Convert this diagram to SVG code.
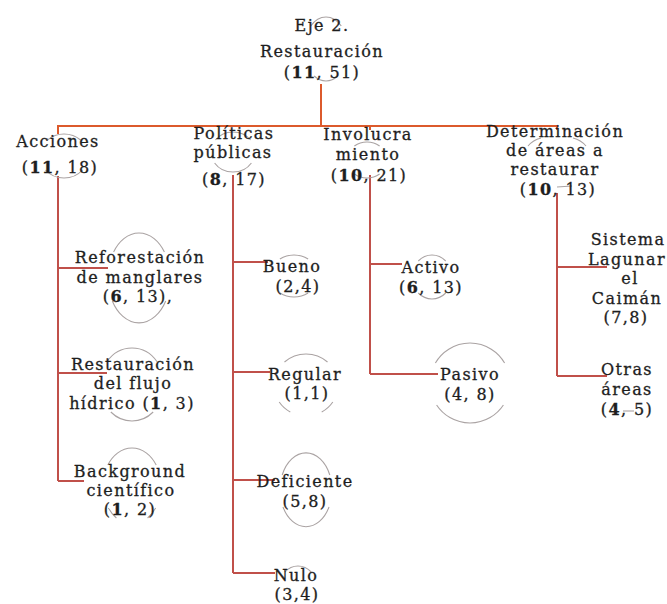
<svg xmlns="http://www.w3.org/2000/svg" width="667" height="604" viewBox="0 0 667 604">
<style>
  text { font-family: "DejaVu Serif", "Liberation Serif", serif; font-size: 16px; letter-spacing: 1.4px; fill: #1e1e1e; stroke: #1e1e1e; stroke-width: 0.3; text-anchor: middle; }
  .b { font-weight: bold; }
  .arc { fill: none; stroke: #aaa3a3; stroke-width: 1.1; }
  .c1 { fill: none; stroke: #dc5a2c; stroke-width: 2; }
  .c2 { fill: none; stroke: #c0504a; stroke-width: 2; }
</style>
<rect width="667" height="604" fill="#ffffff"/>

<g id="connectors">
  <path class="c1" d="M321 84 V126 M57 126 H557 M58 126 V134 M370 126 V130 M557 126 V130"/>
  <path class="c2" d="M58 176 V481 M58 268 H108 M58 373 H107 M58 481 H84"/>
  <path class="c2" d="M233 175 V573 M233 262 H268 M233 372 H270 M233 480 H275 M233 573 H275"/>
  <path class="c2" d="M370 175 V374 M370 264 H402 M370 374 H438"/>
  <path class="c2" d="M557 193 V376 M557 267 H607 M557 376 H607"/>
</g>

<g id="root">
  <path class="arc" d="M310.7 26 A22 32 0 0 1 341.3 26 M337.8 76 A22 32 0 0 1 314.2 76"/>
  <text x="322" y="31">Eje 2.</text>
  <text x="322" y="57">Restauración</text>
  <text x="322" y="78">(<tspan class="b">11</tspan>, 51)</text>
</g>

<g id="acciones">
  <path class="arc" d="M47.5 140 A24 22 0 0 1 80.5 140 M82.5 170 A24 22 0 0 1 45.5 170"/>
  <text x="58" y="147">Acciones</text>
  <text x="60" y="173">(<tspan class="b">11</tspan>, 18)</text>
</g>

<g id="politicas">
  <path class="arc" d="M215.4 140 A22 20 0 0 1 250.6 140 M251.4 163 A22 20 0 0 1 214.6 163"/>
  <text x="234" y="139">Políticas</text>
  <text x="233" y="158">públicas</text>
  <text x="234" y="185">(<tspan class="b">8</tspan>, 17)</text>
</g>

<g id="involucramiento">
  <path class="arc" d="M354.4 146 A20 18 0 0 1 379.6 146 M379.6 174 A20 18 0 0 1 354.4 174"/>
  <text x="368" y="140">Involucra</text>
  <text x="368" y="160">miento</text>
  <text x="369" y="181">(<tspan class="b">10</tspan>, 21)</text>
</g>

<g id="determinacion">
  <path class="arc" d="M541 138 Q533 140 528 146 M573 138 Q581 140 586 146 M557 187 L572 186"/>
  <text x="555" y="137">Determinación</text>
  <text x="555" y="156">de áreas a</text>
  <text x="555" y="175">restaurar</text>
  <text x="558" y="195">(<tspan class="b">10</tspan>, 13)</text>
</g>

<g id="reforestacion">
  <path class="arc" d="M113.6 252 A31 44.5 0 0 1 164.4 252 M165.7 301 A31 44.5 0 0 1 112.3 301"/>
  <text x="140" y="263">Reforestación</text>
  <text x="140" y="283">de manglares</text>
  <text x="138" y="302">(<tspan class="b">6</tspan>, 13),</text>
</g>

<g id="restauracion-flujo">
  <path class="arc" d="M106.7 362 A32 36 0 0 1 157.3 362 M153.2 412 A32 36 0 0 1 110.8 412"/>
  <text x="133" y="370">Restauración</text>
  <text x="133" y="389">del flujo</text>
  <text x="132" y="409">hídrico (<tspan class="b">1</tspan>, 3)</text>
</g>

<g id="background">
  <path class="arc" d="M107.8 465 A29 38 0 0 1 156.2 465 M108.4 508 A29 38 0 0 0 116.4 518 M155.6 508 A29 38 0 0 1 147.6 518"/>
  <text x="130" y="477">Background</text>
  <text x="131" y="496">científico</text>
  <text x="130" y="515">(<tspan class="b">1</tspan>, 2)</text>
</g>

<g id="bueno">
  <path class="arc" d="M279.9 259 A24 21 0 0 1 308.1 259 M308.1 293 A24 21 0 0 1 279.9 293"/>
  <text x="292" y="272">Bueno</text>
  <text x="298" y="292">(2,4)</text>
</g>

<g id="regular">
  <path class="arc" d="M284.5 362 A32 31 0 0 1 327.5 362 M279.2 402 A32 31 0 0 0 290.3 412 M332.8 402 A32 31 0 0 1 321.7 412"/>
  <text x="305" y="380">Regular</text>
  <text x="307" y="399">(1,1)</text>
</g>

<g id="deficiente">
  <path class="arc" d="M282.2 475 A26 37 0 0 1 329.8 475 M329 507 A26 37 0 0 1 283 507"/>
  <text x="305" y="487">Deficiente</text>
  <text x="305" y="507">(5,8)</text>
</g>

<g id="nulo">
  <path class="arc" d="M284.8 572 A20 24 0 0 1 311.2 572"/>
  <text x="296" y="581">Nulo</text>
  <text x="297" y="600">(3,4)</text>
</g>

<g id="activo">
  <path class="arc" d="M418.3 261 A20 22 0 0 1 445.7 261 M445.7 293 A20 22 0 0 1 418.3 293"/>
  <text x="431" y="273">Activo</text>
  <text x="431" y="293">(<tspan class="b">6</tspan>, 13)</text>
</g>

<g id="pasivo">
  <path class="arc" d="M435.4 363 A40 40 0 0 1 504.6 363 M503.4 405 A40 40 0 0 1 436.6 405"/>
  <text x="470" y="380">Pasivo</text>
  <text x="470" y="400">(4, 8)</text>
</g>

<g id="sistema-lagunar">
  <text x="628" y="245">Sistema</text>
  <text x="627" y="265">Lagunar</text>
  <text x="630" y="284">el</text>
  <text x="627" y="304">Caimán</text>
  <text x="626" y="323">(7,8)</text>
</g>

<g id="otras-areas">
  <path class="arc" d="M623 411 L634 411"/>
  <text x="627" y="375">Otras</text>
  <text x="627" y="395">áreas</text>
  <text x="627" y="415">(<tspan class="b">4</tspan>, 5)</text>
</g>
</svg>
